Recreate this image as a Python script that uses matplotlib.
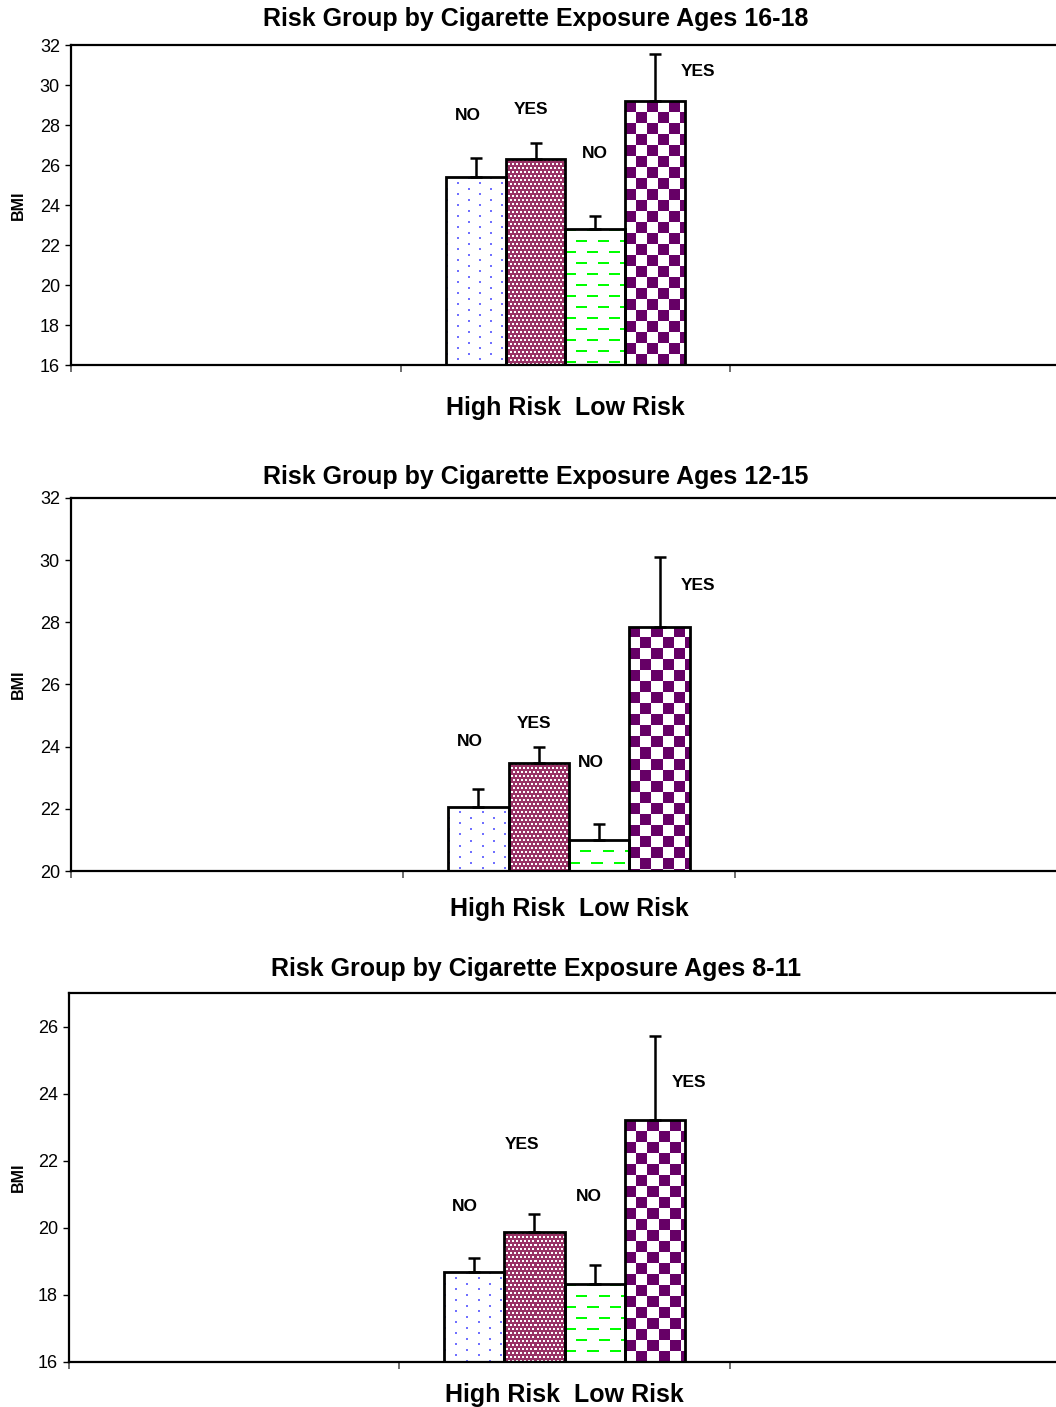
import numpy as np
import matplotlib
matplotlib.use("Agg")
import matplotlib.pyplot as plt

plt.rcParams['font.family'] = ['Liberation Sans', 'DejaVu Sans']

# ---------------- data ----------------
titles = ["Risk Group by Cigarette Exposure Ages 16-18",
          "Risk Group by Cigarette Exposure Ages 12-15",
          "Risk Group by Cigarette Exposure Ages 8-11"]
category_label = "High Risk  Low Risk"
bar_labels = ["NO", "YES", "NO", "YES"]

bmi_16_18 = [25.4, 26.3, 22.8, 29.2]
err_16_18 = [0.95, 0.8, 0.65, 2.35]
bmi_12_15 = [22.06, 23.47, 21.0, 27.85]
err_12_15 = [0.58, 0.52, 0.51, 2.25]
bmi_8_11 = [18.68, 19.87, 18.32, 23.2]
err_8_11 = [0.42, 0.53, 0.57, 2.53]

yticks_16_18 = [16, 18, 20, 22, 24, 26, 28, 30, 32]
yticks_12_15 = [20, 22, 24, 26, 28, 30, 32]
yticks_8_11 = [16, 18, 20, 22, 24, 26]

# ---------------- layout (not data) ----------------
W, H = 1056, 1407
panels = [
    dict(vals=bmi_16_18, errs=err_16_18, yticks=yticks_16_18, ylim=(16, 32),
         box=(71, 45, 1060, 365), title_y=19, cat_pad=22.5,
         label_y=[28.5, 28.75, 26.6, 30.65], label_dx=[-8, -4, -1, 43]),
    dict(vals=bmi_12_15, errs=err_12_15, yticks=yticks_12_15, ylim=(20, 32),
         box=(71, 498, 1067, 871), title_y=477, cat_pad=18.5,
         label_y=[24.18, 24.76, 23.5, 29.2], label_dx=[-8, -5, -8, 38]),
    dict(vals=bmi_8_11, errs=err_8_11, yticks=yticks_8_11, ylim=(16, 27),
         box=(69, 993, 1060, 1362), title_y=969, cat_pad=15,
         label_y=[20.64, 22.49, 20.94, 24.33], label_dx=[-9, -12, -6, 34]),
]
bar_w = 0.182
offsets = [-1.5, -0.5, 0.5, 1.5]

MAROON = np.array([0x99, 0x33, 0x66]) / 255
PURPLE = np.array([0x66, 0x00, 0x66]) / 255
GREEN = np.array([0x00, 0xFF, 0x00]) / 255
BLUE = np.array([0x70, 0x70, 0xFF]) / 255
WHITE = np.ones(3)


def pattern(kind, h, w):
    img = np.ones((h, w, 3))
    yy, xx = np.mgrid[0:h, 0:w]
    if kind == 0:  # sparse staggered blue dots
        r = yy % 11
        col = (xx // 11) % 2
        m = ((r < 2) & ((xx % 11) < 2) & (col == 0)) | \
            ((r >= 5) & (r < 7) & ((xx % 11) < 2) & (col == 1))
        img[m] = BLUE
    elif kind == 1:  # fine maroon pattern with white squares
        blk = (yy // 4) % 2
        m_white = ((yy % 4) < 2) & (((xx + blk * 2) % 4) < 2)
        img[:] = MAROON
        img[m_white] = WHITE
    elif kind == 2:  # green dashes
        row = yy // 11
        shift = (row % 2) * 11
        m = ((yy % 11) < 2) & (((xx + shift) % 22) < 11)
        img[m] = GREEN
    else:  # large checkerboard
        m = ((yy // 11) + (xx // 11)) % 2 == 0
        img[m] = PURPLE
    return img


fig = plt.figure(figsize=(W / 100, H / 100), dpi=100)

for p, title in zip(panels, titles):
    l, t, r, b = p['box']
    ax = fig.add_axes([l / W, 1 - b / H, (r - l) / W, (b - t) / H])
    ymin, ymax = p['ylim']
    ax.set_xlim(-0.5, 2.5)
    ax.set_ylim(ymin, ymax)

    xs = [1 + o * bar_w for o in offsets]
    heights = [v - ymin for v in p['vals']]
    bars = ax.bar(xs, heights, width=bar_w, bottom=ymin, facecolor='none',
                  edgecolor='black', linewidth=2.0, zorder=3)

    for k, rect in enumerate(bars):
        x0, y0 = rect.get_x(), rect.get_y()
        x1, y1 = x0 + rect.get_width(), y0 + rect.get_height()
        (px0, py0), (px1, py1) = ax.transData.transform([(x0, y0), (x1, y1)])
        pw, ph = max(int(round(px1 - px0)), 1), max(int(round(py1 - py0)), 1)
        img = pattern(k, ph, pw)
        im = ax.imshow(img, extent=(x0, x1, y0, y1), aspect='auto',
                       interpolation='nearest', origin='upper', zorder=2)
        im.set_clip_path(rect)

    ax.errorbar(xs, p['vals'], yerr=[np.zeros(4), p['errs']], fmt='none',
                ecolor='black', elinewidth=1.8, capsize=4.3, capthick=1.8,
                zorder=4)

    ax.set_xlim(-0.5, 2.5)
    ax.set_ylim(ymin, ymax)

    for k, txt in enumerate(bar_labels):
        ax.annotate(txt, xy=(xs[k], p['label_y'][k]),
                    xytext=(p['label_dx'][k] * 0.72, 0), textcoords='offset points',
                    ha='center', va='center', fontsize=12.5, fontweight='bold',
                    zorder=5)

    ax.set_yticks(p['yticks'])
    ax.set_yticklabels([str(v) for v in p['yticks']], fontsize=13)
    ax.tick_params(axis='y', direction='out', length=4, width=1, pad=4)
    ax.set_xticks([1])
    ax.set_xticklabels([category_label], fontsize=18, fontweight='bold')
    ax.tick_params(axis='x', which='major', length=0, pad=p['cat_pad'])
    ax.set_xticks([-0.5, 0.5, 1.5, 2.5], minor=True)
    ax.tick_params(axis='x', which='minor', direction='out', length=5,
                   width=1.2, color='#555555')

    for s in ['left', 'bottom', 'top', 'right']:
        ax.spines[s].set_linewidth(1.6)
        ax.spines[s].set_color('black')

    fig.text(536 / W, 1 - p['title_y'] / H, title, ha='center', va='center',
             fontsize=18, fontweight='bold')
    fig.text(18 / W, 1 - ((t + b) / 2) / H, "BMI", rotation=90, ha='center',
             va='center', fontsize=11.5, fontweight='bold')

fig.savefig("out.png", dpi=100)
